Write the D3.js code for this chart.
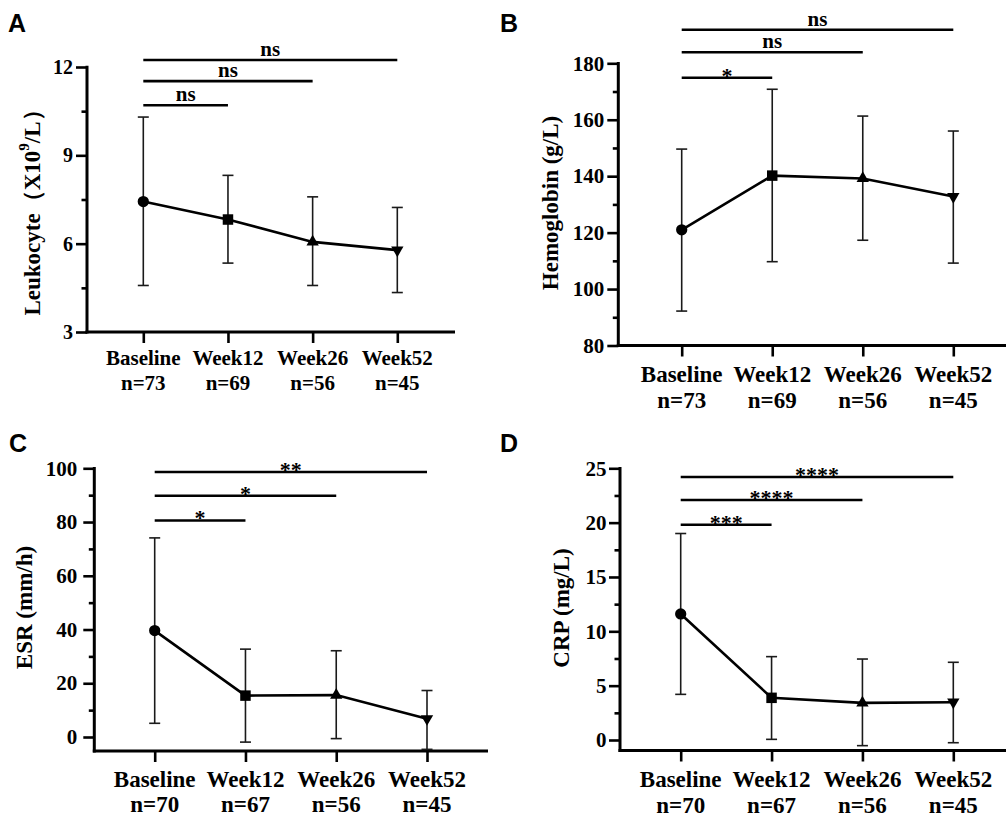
<!DOCTYPE html>
<html>
<head>
<meta charset="utf-8">
<script src="https://cdn.jsdelivr.net/npm/d3@7/dist/d3.min.js"></script>
<style>
  html, body { margin: 0; padding: 0; background: #fff; }
  svg { display: block; }
  text { font-family: "Liberation Serif", "Times New Roman", serif; font-weight: bold; fill: #000; }
</style>
</head>
<body>
<svg id="chart" width="1006" height="819"></svg>
<script>
// ---------- DATA ----------
const categories = ["Baseline", "Week12", "Week26", "Week52"];

const leukoN     = ["n=73", "n=69", "n=56", "n=45"];
const leukoMean  = [7.43, 6.82, 6.06, 5.78];
const leukoUpper = [10.30, 8.32, 7.59, 7.23];
const leukoLower = [4.58, 5.34, 4.58, 4.34];
const leukoSig   = ["ns", "ns", "ns"];
const leukoTicks = [3, 6, 9, 12];
const leukoMinor = [4.5, 7.5, 10.5];

const hbN     = ["n=73", "n=69", "n=56", "n=45"];
const hbMean  = [121.0, 140.2, 139.2, 132.8];
const hbUpper = [149.6, 170.8, 161.3, 156.0];
const hbLower = [92.2, 109.7, 117.3, 109.2];
const hbSig   = ["*", "ns", "ns"];
const hbTicks = [80, 100, 120, 140, 160, 180];
const hbMinor = [90, 110, 130, 150, 170];

const esrN     = ["n=70", "n=67", "n=56", "n=45"];
const esrMean  = [39.6, 15.4, 15.6, 6.8];
const esrUpper = [74.1, 32.7, 32.1, 17.3];
const esrLower = [5.1, -1.9, -0.6, -4.6];
const esrSig   = ["*", "*", "**"];
const esrTicks = [0, 20, 40, 60, 80, 100];
const esrMinor = [10, 30, 50, 70, 90];

const crpN     = ["n=70", "n=67", "n=56", "n=45"];
const crpMean  = [11.6, 3.88, 3.42, 3.48];
const crpUpper = [19.0, 7.67, 7.45, 7.15];
const crpLower = [4.2, 0.06, -0.52, -0.25];
const crpSig   = ["***", "****", "****"];
const crpTicks = [0, 5, 10, 15, 20, 25];
const crpMinor = [2.5, 7.5, 12.5, 17.5, 22.5];

const markerShapes = ["circle", "square", "triangleUp", "triangleDown"];

// ---------- LAYOUT ----------
const panels = [
  { letter: "A", lx: 8, ly: 32, mean: leukoMean, upper: leukoUpper, lower: leukoLower, n: leukoN,
    sig: leukoSig, sigLevels: [10.7, 11.52, 12.24], ticks: leukoTicks, minor: leukoMinor,
    domain: [3, 12], yRange: [332, 67], axisX: 87, xAxisY: 332, xAxisEnd: 455,
    catRange: [143.3, 397.3], lab1: 33, lab2: 58, xFont: 21, tickFont: 20, tickPad: 3,
    ylabel: "leuko", ylx: 32, yly: 207 },
  { letter: "B", lx: 500, ly: 32, mean: hbMean, upper: hbUpper, lower: hbLower, n: hbN,
    sig: hbSig, sigLevels: [174.9, 183.9, 191.9], ticks: hbTicks, minor: hbMinor,
    domain: [80, 180], yRange: [345.5, 63.3], axisX: 618.3, xAxisY: 345.5, xAxisEnd: 1006,
    catRange: [681.7, 953.3], lab1: 36.5, lab2: 62, xFont: 23, tickFont: 21, tickPad: 3,
    ylabel: "Hemoglobin (g/L)", ylx: 550, yly: 203 },
  { letter: "C", lx: 9, ly: 452, mean: esrMean, upper: esrUpper, lower: esrLower, n: esrN,
    sig: esrSig, sigLevels: [80.6, 89.8, 98.6], ticks: esrTicks, minor: esrMinor,
    domain: [0, 100], yRange: [737, 468.3], axisX: 94.3, xAxisY: 751, xAxisEnd: 488,
    catRange: [154.7, 427], lab1: 35.7, lab2: 60.7, xFont: 23, tickFont: 21, tickPad: 6,
    ylabel: "ESR (mm/h)", ylx: 24, yly: 607.5 },
  { letter: "D", lx: 500, ly: 452, mean: crpMean, upper: crpUpper, lower: crpLower, n: crpN,
    sig: crpSig, sigLevels: [19.8, 22.08, 24.2], ticks: crpTicks, minor: crpMinor,
    domain: [0, 25], yRange: [740, 468.3], axisX: 620, xAxisY: 750.5, xAxisEnd: 1006,
    catRange: [680.7, 953.3], lab1: 36.5, lab2: 62.5, xFont: 23, tickFont: 21, tickPad: 2.5,
    ylabel: "CRP (mg/L)", ylx: 561.7, yly: 608 }
];

const svg = d3.select("#chart");

function symbolPath(shape) {
  if (shape === "circle") return d3.symbol(d3.symbolCircle, 100)();
  if (shape === "square") return d3.symbol(d3.symbolSquare, 110)();
  return d3.symbol(d3.symbolTriangle, 66)();
}

panels.forEach(p => {
  const g = svg.append("g");
  const y = d3.scaleLinear().domain(p.domain).range(p.yRange);
  const x = d3.scalePoint().domain(categories).range(p.catRange);

  // panel letter
  g.append("text").attr("x", p.lx).attr("y", p.ly)
    .style("font-family", "'Liberation Sans', Arial, sans-serif")
    .style("font-size", "25px").text(p.letter);

  // y axis major
  const yAx = g.append("g").attr("transform", `translate(${p.axisX},0)`)
    .call(d3.axisLeft(y).tickValues(p.ticks).tickSize(11).tickPadding(p.tickPad).tickFormat(d3.format("d")));
  yAx.select(".domain").remove();
  yAx.selectAll(".tick line").attr("stroke", "#000").attr("stroke-width", 2.6);
  yAx.selectAll(".tick text").style("font-family", "'Liberation Serif', serif")
    .style("font-weight", "bold").style("font-size", p.tickFont + "px").attr("fill", "#000");
  // y axis minor
  const yMin = g.append("g").attr("transform", `translate(${p.axisX},0)`)
    .call(d3.axisLeft(y).tickValues(p.minor).tickSize(5.5).tickFormat(""));
  yMin.select(".domain").remove();
  yMin.selectAll(".tick line").attr("stroke", "#000").attr("stroke-width", 2.6);

  // axis lines
  g.append("line").attr("x1", p.axisX).attr("x2", p.axisX)
    .attr("y1", y(p.domain[1]) - 1.3).attr("y2", p.xAxisY + 1.5)
    .attr("stroke", "#000").attr("stroke-width", 3);
  g.append("line").attr("x1", p.axisX - 1.5).attr("x2", p.xAxisEnd)
    .attr("y1", p.xAxisY).attr("y2", p.xAxisY)
    .attr("stroke", "#000").attr("stroke-width", 3);

  // x axis ticks
  const xAx = g.append("g").attr("transform", `translate(0,${p.xAxisY})`)
    .call(d3.axisBottom(x).tickSize(11).tickFormat(""));
  xAx.select(".domain").remove();
  xAx.selectAll(".tick line").attr("stroke", "#000").attr("stroke-width", 2.6);

  // x labels
  categories.forEach((c, i) => {
    g.append("text").attr("x", x(c)).attr("y", p.xAxisY + p.lab1)
      .attr("text-anchor", "middle").style("font-size", p.xFont + "px").text(c);
    g.append("text").attr("x", x(c)).attr("y", p.xAxisY + p.lab2)
      .attr("text-anchor", "middle").style("font-size", p.xFont + "px").text(p.n[i]);
  });

  // y label
  const yl = g.append("text")
    .attr("transform", `translate(${p.ylx},${p.yly}) rotate(-90)`)
    .attr("text-anchor", "middle").attr("dominant-baseline", "central")
    .style("font-size", "23px");
  if (p.ylabel === "leuko") {
    yl.append("tspan").text("Leukocyte\uFF08X10");
    yl.append("tspan").attr("dy", -8).style("font-size", "15px").text("9");
    yl.append("tspan").attr("dy", 8).text("/L\uFF09");
  } else {
    yl.text(p.ylabel);
  }

  // error bars
  categories.forEach((c, i) => {
    const cx = x(c);
    g.append("line").attr("x1", cx).attr("x2", cx)
      .attr("y1", y(p.upper[i])).attr("y2", y(p.lower[i]))
      .attr("stroke", "#1a1a1a").attr("stroke-width", 1.6);
    [p.upper[i], p.lower[i]].forEach(v => {
      g.append("line").attr("x1", cx - 5.5).attr("x2", cx + 5.5)
        .attr("y1", y(v)).attr("y2", y(v))
        .attr("stroke", "#1a1a1a").attr("stroke-width", 1.6);
    });
  });

  // mean line
  const line = d3.line().x((d, i) => x(categories[i])).y(d => y(d));
  g.append("path").datum(p.mean).attr("d", line)
    .attr("fill", "none").attr("stroke", "#000").attr("stroke-width", 2.6);

  // markers
  p.mean.forEach((v, i) => {
    const shape = markerShapes[i];
    let tr = `translate(${x(categories[i])},${y(v)})`;
    if (shape === "triangleDown") tr += " rotate(180)";
    g.append("path").attr("d", symbolPath(shape)).attr("transform", tr).attr("fill", "#000");
  });

  // significance brackets
  p.sig.forEach((s, k) => {
    const x1 = x(categories[0]), x2 = x(categories[k + 1]);
    const yy = y(p.sigLevels[k]);
    g.append("line").attr("x1", x1).attr("x2", x2).attr("y1", yy).attr("y2", yy)
      .attr("stroke", "#000").attr("stroke-width", 2.6);
    const isStar = s.indexOf("*") >= 0;
    g.append("text").attr("x", (x1 + x2) / 2).attr("y", isStar ? yy + 5 : yy - 4)
      .attr("text-anchor", "middle").style("font-size", isStar ? "22px" : "21px").text(s);
  });
});
</script>
</body>
</html>
